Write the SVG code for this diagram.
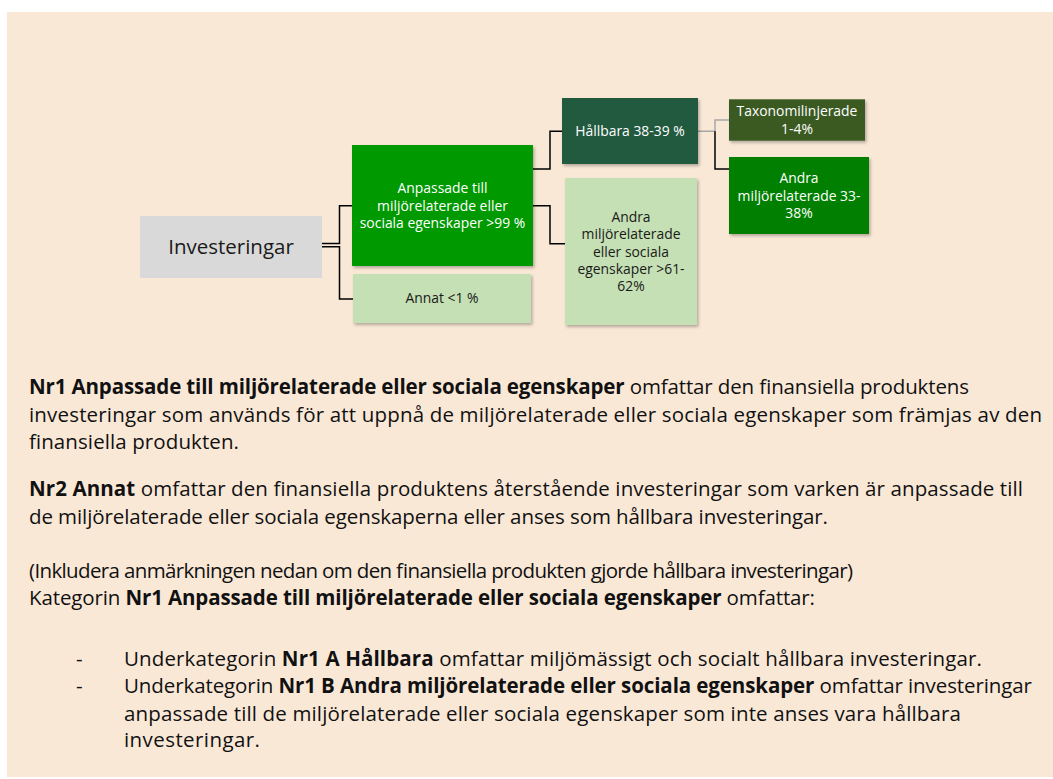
<svg xmlns="http://www.w3.org/2000/svg" width="1053" height="779" viewBox="0 0 1053 779">
<defs>
<filter id="sh" x="-10%" y="-10%" width="130%" height="140%">
<feDropShadow dx="1.5" dy="2" stdDeviation="1.8" flood-color="#000" flood-opacity="0.28"/>
</filter>
<style>
.box{filter:url(#sh)}
.bt{font-family:"Open Sans","Liberation Sans",sans-serif;font-size:13.9px;text-anchor:middle}
.w{fill:#ffffff}
.d{fill:#1a1a1a}
.body{font-family:"Open Sans","Liberation Sans",sans-serif;font-size:20.5px;fill:#111111}
.b{font-weight:bold}
.con{fill:none;stroke:#000000;stroke-width:1.5}
.gray{fill:none;stroke:#a6a6a6;stroke-width:1.5}
</style>
</defs>
<rect x="7" y="12" width="1046" height="765" fill="#fae8d7"/>

<g id="connectors">
<path class="con" d="M322,243.5 H339.5 V205.7 H352"/>
<path class="con" d="M322,246.8 H339.5 V299 H353"/>
<path class="con" d="M533,169 H550 V131.3 H562"/>
<path class="con" d="M533,205.7 H550 V243.7 H565"/>
<path class="gray" d="M698,131.3 H715 V120 H729"/>
<path class="con" d="M715,131.3 V169 H729"/>
</g>

<g id="investeringar">
<rect x="140" y="216" width="182" height="62" fill="#d9d9d9"/>
<text x="231" y="253.5" class="bt d" style="font-size:20.5px">Investeringar</text>
</g>

<g id="anpassade">
<rect class="box" x="352" y="145" width="181" height="121" fill="#009900"/>
<text class="bt w"><tspan x="442.5" y="193">Anpassade till</tspan><tspan x="442.5" y="210.5">miljörelaterade eller</tspan><tspan x="442.5" y="228">sociala egenskaper &gt;99 %</tspan></text>
</g>

<g id="annat">
<rect class="box" x="353" y="274" width="178" height="49" fill="#c5e0b4"/>
<text x="442" y="303.3" class="bt d">Annat &lt;1 %</text>
</g>

<g id="hallbara">
<rect class="box" x="562" y="98" width="136" height="66" fill="#245a3f"/>
<text x="630" y="135.7" class="bt w">Hållbara 38-39 %</text>
</g>

<g id="andra-sociala">
<rect class="box" x="565" y="178" width="132" height="147" fill="#c5e0b4"/>
<text class="bt d"><tspan x="631" y="221.7">Andra</tspan><tspan x="631" y="239">miljörelaterade</tspan><tspan x="631" y="256.7">eller sociala</tspan><tspan x="631" y="274">egenskaper &gt;61-</tspan><tspan x="631" y="291.3">62%</tspan></text>
</g>

<g id="taxonomi">
<rect class="box" x="729" y="99.3" width="136" height="41.4" fill="#3a5a24"/>
<text class="bt w"><tspan x="797" y="116">Taxonomilinjerade</tspan><tspan x="797" y="133.5">1-4%</tspan></text>
</g>

<g id="andra-miljo">
<rect class="box" x="729" y="157" width="140" height="77" fill="#007f00"/>
<text class="bt w"><tspan x="799" y="183.3">Andra</tspan><tspan x="799" y="200.8">miljörelaterade 33-</tspan><tspan x="799" y="218">38%</tspan></text>
</g>

<g id="text">
<text class="body" x="29" y="394.3" textLength="940" lengthAdjust="spacing"><tspan class="b">Nr1 Anpassade till miljörelaterade eller sociala egenskaper</tspan> omfattar den finansiella produktens</text>
<text class="body" x="29" y="421.8" textLength="1013" lengthAdjust="spacing">investeringar som används för att uppnå de miljörelaterade eller sociala egenskaper som främjas av den</text>
<text class="body" x="29" y="449.2" textLength="210" lengthAdjust="spacing">finansiella produkten.</text>
<text class="body" x="29" y="496" textLength="994" lengthAdjust="spacing"><tspan class="b">Nr2 Annat</tspan> omfattar den finansiella produktens återstående investeringar som varken är anpassade till</text>
<text class="body" x="29" y="524" textLength="799" lengthAdjust="spacing">de miljörelaterade eller sociala egenskaperna eller anses som hållbara investeringar.</text>
<text class="body" x="29" y="578.3" textLength="824" lengthAdjust="spacing">(Inkludera anmärkningen nedan om den finansiella produkten gjorde hållbara investeringar)</text>
<text class="body" x="29" y="605.2" textLength="786" lengthAdjust="spacing">Kategorin <tspan class="b">Nr1 Anpassade till miljörelaterade eller sociala egenskaper</tspan> omfattar:</text>
<text class="body" x="76" y="666">-</text>
<text class="body" x="124" y="666" textLength="858" lengthAdjust="spacing">Underkategorin <tspan class="b">Nr1 A Hållbara</tspan> omfattar miljömässigt och socialt hållbara investeringar.</text>
<text class="body" x="76" y="693.4">-</text>
<text class="body" x="124" y="693.4" textLength="908" lengthAdjust="spacing">Underkategorin <tspan class="b">Nr1 B Andra miljörelaterade eller sociala egenskaper</tspan> omfattar investeringar</text>
<text class="body" x="124" y="720.6" textLength="837" lengthAdjust="spacing">anpassade till de miljörelaterade eller sociala egenskaper som inte anses vara hållbara</text>
<text class="body" x="124" y="747.4" textLength="136" lengthAdjust="spacing">investeringar.</text>
</g>
</svg>
